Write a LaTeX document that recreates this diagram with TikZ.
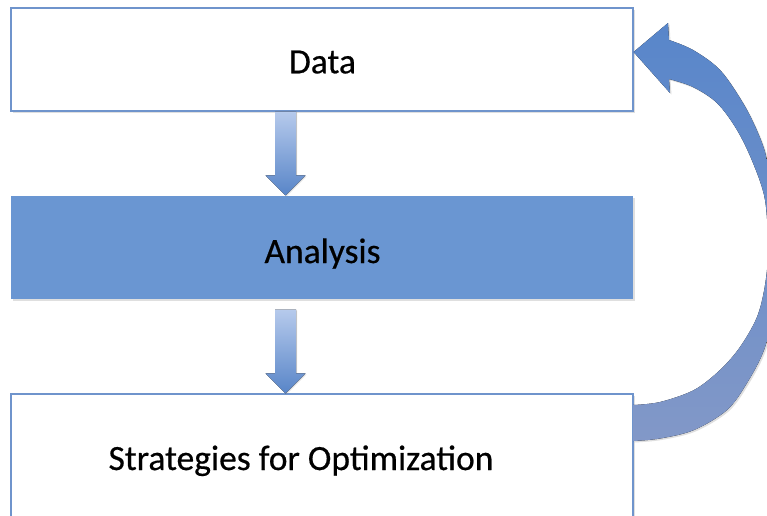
\documentclass[tikz,border=0pt]{standalone}
\usepackage{fontspec}
\setmainfont{Carlito}
\newfontfamily\lblfont{Carlito}[FakeBold=0.5]
\usetikzlibrary{calc,shadows}
\definecolor{boxline}{RGB}{111,148,204}
\definecolor{boxfill}{RGB}{106,150,210}
\definecolor{arrtop}{RGB}{182,202,236}
\definecolor{arrbot}{RGB}{88,133,200}
\definecolor{curvetop}{RGB}{88,134,202}
\definecolor{curvebot}{RGB}{130,152,200}
\tikzset{
  plainbox/.style={draw=boxline, line width=1.2pt, fill=white, minimum width=622pt, minimum height=103pt, inner sep=0pt,
    drop shadow={opacity=0.25, shadow xshift=1.5pt, shadow yshift=-1.5pt}},
  filledbox/.style={plainbox, draw=none, fill=boxfill},
  lbl/.style={font=\lblfont\fontsize{35.5}{40}\selectfont, inner sep=0pt, text=black, anchor=base},
  downarrow/.style={top color=arrtop, bottom color=arrbot, draw=none,
    drop shadow={opacity=0.25, shadow xshift=1pt, shadow yshift=-1pt}},
  loopback/.style={top color=curvetop, bottom color=curvebot, draw=none,
    drop shadow={opacity=0.25, shadow xshift=1.5pt, shadow yshift=-1.5pt}}
}
\begin{document}
\begin{tikzpicture}[x=1pt,y=-1pt]
\useasboundingbox (0,0) rectangle (767,515);
\clip (0,0) rectangle (767,515);
\fill[white] (0,0) rectangle (767,515);

\node[plainbox] (data) at (322,59.5) {};
\node[filledbox] (analysis) at (322,247.5) {};
\node[plainbox, minimum height=132pt] (strat) at (322,460) {};
\node[lbl] (datalabel) at (322.5,73.3) {Data};
\node[lbl] (analysislabel) at (322.5,263) {Analysis};
\node[lbl] (stratlabel) at (301,470) {Strategies for Optimization};

\coordinate (ax) at (285.5,0);
% arrow Data -> Analysis
\fill[downarrow] ($(data.south -| ax)+(-10.5,0)$) -- ($(data.south -| ax)+(10.5,0)$)
  -- ($(analysis.north -| ax)+(10.5,-20)$) -- ($(analysis.north -| ax)+(20,-20)$)
  -- (analysis.north -| ax)
  -- ($(analysis.north -| ax)+(-20,-20)$) -- ($(analysis.north -| ax)+(-10.5,-20)$) -- cycle;
% arrow Analysis -> Strategies
\fill[downarrow] ($(analysis.south -| ax)+(-10.5,10)$) -- ($(analysis.south -| ax)+(10.5,10)$)
  -- ($(strat.north -| ax)+(10.5,-20)$) -- ($(strat.north -| ax)+(20,-20)$)
  -- (strat.north -| ax)
  -- ($(strat.north -| ax)+(-20,-20)$) -- ($(strat.north -| ax)+(-10.5,-20)$) -- cycle;

% curved arrow Strategies -> Data
\coordinate (ct) at ($(data.east)+(0,-7.5)$);
\fill[loopback] plot[smooth, tension=0.55] coordinates {(633,441) (660,438.5) (694,430) (727,410) (747,383) (764,350) (774,310) (778,260) (775,210) (767,160) (758,133) (743,103) (720,70) (693,50) (669,40)}
  -- (668,23) -- (ct) -- (670,93) --
  plot[smooth, tension=0.55] coordinates {(669,79) (693,87) (717,103) (737,130) (753,163) (765,200) (768,250) (765,285) (757,317) (740,347) (720,370) (694,390) (660,402) (633,405)}
  -- cycle;
\end{tikzpicture}
\end{document}
